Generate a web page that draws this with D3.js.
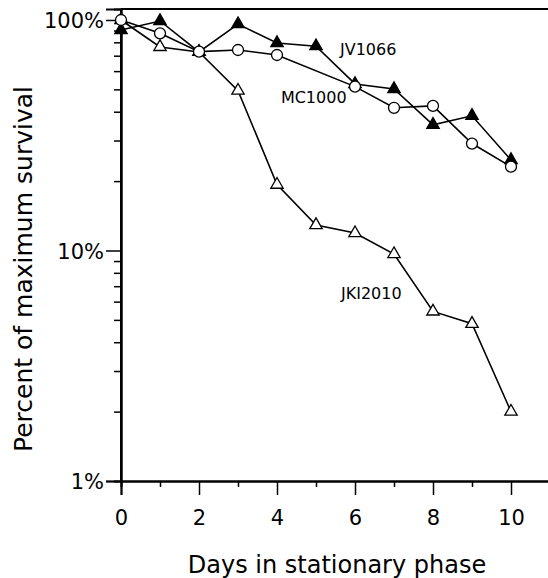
<!DOCTYPE html>
<html lang="en">
<head>
    <meta charset="UTF-8">
    <title>Percent of maximum survival</title>
    <script src="https://cdn.jsdelivr.net/npm/d3@7"></script>
    <style>
        body{ margin:0; background:#fff; }
        text{ font-family: "DejaVu Sans", "Liberation Sans", Arial, sans-serif; fill:#000; }
    </style>
</head>
<body>
<div class="container"></div>
<script>
    // data
    const days = [0,1,2,3,4,5,6,7,8,9,10];
    const jv1066  = [90.5, 99, 72.7, 96, 79.5, 77, 52.8, 50.2, 35.1, 38.4, 24.7];
    const mc1000  = [100, 87.5, 72.9, 74.1, 70.5, null, 51.4, 41.6, 42.4, 29.1, 23.1];
    const jki2010 = [100, 76.4, 72.7, 49.4, 19.3, 12.9, 11.9, 9.65, 5.44, 4.81, 2.0];
    const yMajor = [1, 10, 100];
    const yMinor = [2,3,4,5,6,7,8,9,20,30,40,50,60,70,80,90];
    const xMajor = [0,2,4,6,8,10];
    const xMinor = [1,3,5,7,9];

    const width = 548, height = 578;
    const svg = d3.select(".container").append("svg")
        .attr("width", width).attr("height", height);

    const x = d3.scaleLinear().domain([0, 11]).range([121, 550]);
    const y = d3.scaleLog().domain([1, 111.6]).range([481, 9]);

    // frame: top line + left & bottom axes
    const axisG = svg.append("g");
    axisG.append("line")
        .attr("x1", x(0)).attr("x2", x(11))
        .attr("y1", y(111.6)).attr("y2", y(111.6))
        .attr("stroke", "#000").attr("stroke-width", 2);

    const yAxis = axisG.append("g").attr("transform", `translate(${x(0)},0)`)
        .call(d3.axisLeft(y).tickValues(yMajor).tickSize(15).tickPadding(2)
            .tickFormat(d => d + "%"));
    axisG.append("g").attr("transform", `translate(${x(0)},0)`)
        .call(d3.axisLeft(y).tickValues(yMinor).tickSize(7).tickFormat(""));

    const xAxis = axisG.append("g").attr("transform", `translate(0,${y(1)})`)
        .call(d3.axisBottom(x).tickValues(xMajor).tickSize(14).tickPadding(15));
    axisG.append("g").attr("transform", `translate(0,${y(1)})`)
        .call(d3.axisBottom(x).tickValues(xMinor).tickSize(6).tickFormat(""));

    axisG.selectAll(".domain").attr("stroke-width", 2);
    axisG.selectAll(".tick line").attr("stroke-width", 1.5);
    axisG.selectAll(".tick text").attr("font-size", "21px")
        .attr("font-family", "\"DejaVu Sans\", sans-serif");
    yAxis.selectAll(".tick text").attr("dy", "0.36em");
    // extend y domain line to the top border
    axisG.append("line")
        .attr("x1", x(0)).attr("x2", x(0))
        .attr("y1", y(111.6)).attr("y2", y(1))
        .attr("stroke", "#000").attr("stroke-width", 2);

    // series
    const series = [
        {name: "JKI2010", values: jki2010, shape: "triangle", fill: "#fff"},
        {name: "JV1066", values: jv1066, shape: "triangle", fill: "#000"},
        {name: "MC1000", values: mc1000, shape: "circle", fill: "#fff"}
    ];

    const line = d3.line()
        .defined(d => d.v != null)
        .x(d => x(d.day)).y(d => y(d.v));

    const pts = s => days.map((d, i) => ({day: d, v: s.values[i]})).filter(d => d.v != null);

    svg.append("g").selectAll("path")
        .data(series)
        .join("path")
        .attr("d", s => line(pts(s)))
        .attr("fill", "none")
        .attr("stroke", "#000")
        .attr("stroke-width", 1.6);

    const tri = d3.symbol().type(d3.symbolTriangle).size(66);
    series.filter(s => s.shape === "triangle").forEach(s => {
        svg.append("g").selectAll("path")
            .data(pts(s))
            .join("path")
            .attr("d", tri)
            .attr("transform", d => `translate(${x(d.day)},${y(d.v)})`)
            .attr("fill", s.fill)
            .attr("stroke", "#000")
            .attr("stroke-width", 1.3);
    });
    series.filter(s => s.shape === "circle").forEach(s => {
        svg.append("g").selectAll("circle")
            .data(pts(s))
            .join("circle")
            .attr("cx", d => x(d.day)).attr("cy", d => y(d.v))
            .attr("r", 5.5)
            .attr("fill", s.fill)
            .attr("stroke", "#000")
            .attr("stroke-width", 1.3);
    });

    // series labels
    const labels = [
        {text: "JV1066", day: 5.615, v: 70.5},
        {text: "MC1000", day: 4.1, v: 43.6},
        {text: "JKI2010", day: 5.64, v: 6.14}
    ];
    svg.append("g").selectAll("text")
        .data(labels)
        .join("text")
        .attr("x", d => x(d.day)).attr("y", d => y(d.v))
        .attr("font-size", "16px")
        .text(d => d.text);

    // axis titles
    svg.append("text")
        .attr("x", 337).attr("y", 573)
        .attr("text-anchor", "middle")
        .attr("font-size", "24px")
        .text("Days in stationary phase");
    svg.append("text")
        .attr("transform", `translate(32,269) rotate(-90)`)
        .attr("text-anchor", "middle")
        .attr("font-size", "25px")
        .text("Percent of maximum survival");
</script>
</body>
</html>
